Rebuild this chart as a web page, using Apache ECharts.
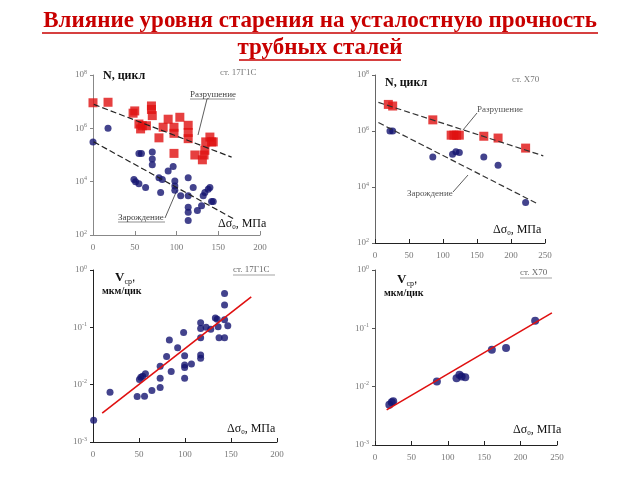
<!DOCTYPE html>
<html>
<head>
<meta charset="utf-8">
<script src="https://cdn.jsdelivr.net/npm/echarts@6/dist/echarts.min.js"></script>
<style>
  html, body { margin: 0; padding: 0; background: #fff; }
  #chart { width: 640px; height: 480px; }
</style>
</head>
<body>
<div id="chart"></div>
<script>
// Панель 1: ст. 17Г1С, N(Δσ0) — [Δσ0, N]
const p1Fracture = [
  [0, 9.1e6], [18, 9.5e6], [48, 3.7e6], [50, 4.5e6], [55, 1.45e6], [57, 9.5e5],
  [59, 1.25e6], [64, 1.25e6], [70, 6.9e6], [70, 5.1e6], [71, 3.0e6], [79, 4.4e5],
  [84, 1.1e6], [90, 2.2e6], [97, 1.1e6], [97, 6.5e5], [97, 1.15e5], [104, 2.6e6],
  [114, 1.3e6], [114, 7e5], [114, 4.1e5], [122, 1.0e5], [131, 6.6e4], [133, 1.0e5],
  [134, 1.5e5], [135, 3.1e5], [140, 4.7e5], [142, 3.1e5], [144, 3.1e5]
];
const p1Init = [
  [0, 3.1e5], [18, 1e6], [49, 1.2e4], [51, 1e4], [55, 8.3e3], [55, 1.15e5], [58, 1.15e5],
  [63, 6e3], [71, 1.3e5], [71, 7.1e4], [71, 4.3e4], [79, 1.4e4], [81, 3.9e3], [83, 1.2e4],
  [90, 2.5e4], [96, 3.7e4], [98, 1.05e4], [98, 6.9e3], [98, 4.8e3], [105, 2.95e3],
  [114, 1.4e4], [114, 2.95e3], [114, 1.1e3], [114, 7.2e2], [114, 3.5e2], [120, 6e3],
  [125, 8.3e2], [130, 1.26e3], [132, 2.95e3], [134, 3.9e3], [138, 5.2e3], [140, 6e3],
  [142, 1.8e3], [144, 1.8e3]
];
const p1FractureFit = [[1, 7.9e6], [166, 8.3e4]];
const p1InitFit = [[1, 3.1e5], [168, 4.1e2]];

// Панель 2: ст. Х70
const p2Fracture = [
  [19.6, 8.9e6], [26, 7.8e6], [85, 2.5e6], [112, 7.1e5], [116, 7.1e5], [120, 7.1e5],
  [124, 7.1e5], [160, 6.5e5], [181, 5.6e5], [221.5, 2.45e5]
];
const p2Init = [
  [22, 1e6], [26, 1e6], [85, 1.17e5], [114, 1.48e5], [119, 1.8e5], [124, 1.7e5],
  [160, 1.17e5], [181, 6e4], [221.5, 2.8e3]
];
const p2FractureFit = [[5, 1.05e7], [247.5, 1.3e5]];
const p2InitFit = [[5, 2e6], [240, 2.45e3]];

// Панель 3: ст. 17Г1С, V(Δσ0)
const p3Rate = [
  [0.7, 2.4e-3], [18.5, 7.4e-3], [48, 6.2e-3], [56, 6.3e-3], [50.5, 1.23e-2], [52, 1.35e-2],
  [54, 1.4e-2], [57, 1.55e-2], [64, 7.9e-3], [73, 1.29e-2], [73, 8.9e-3], [73, 2.1e-2],
  [80, 3.1e-2], [83, 6e-2], [85, 1.7e-2], [92, 4.4e-2], [98.5, 8.1e-2], [99.6, 3.2e-2],
  [99.6, 2.2e-2], [99.6, 2e-2], [99.6, 1.29e-2], [107, 2.3e-2], [117, 0.12], [117, 0.095],
  [117, 0.066], [117, 0.033], [117, 0.029], [123, 0.1], [128, 0.093], [133, 0.145],
  [135, 0.138], [136, 0.102], [137, 0.066], [143, 0.39], [143, 0.245], [143, 0.135],
  [143, 0.066], [146.5, 0.107]
];
const p3Fit = [[10, 3.2e-3], [172, 0.34]];

// Панель 4: ст. Х70
const p4Rate = [
  [19.7, 4.9e-3], [23, 5.4e-3], [25, 5.6e-3], [85, 1.23e-2], [112, 1.4e-2], [116, 1.6e-2],
  [119, 1.5e-2], [124, 1.45e-2], [160.5, 4.3e-2], [180, 4.6e-2], [220, 0.135]
];
const p4Fit = [[16, 4e-3], [243, 0.184]];

const SERIF = '"Liberation Serif", "DejaVu Serif", serif';
const RED = '#e01010';
const NAVY = '#141470';

const supLabel = {
  formatter: v => '{b|10}{e|' + Math.round(Math.log10(v)) + '}',
  color: '#777',
  margin: 6,
  rich: {
    b: { fontFamily: SERIF, fontSize: 9, color: '#777' },
    e: { fontFamily: SERIF, fontSize: 6, color: '#777', padding: [0, 0, 6, 0] }
  }
};

function xAxis(gridIndex, max, color) {
  return {
    type: 'value', gridIndex, min: 0, max, interval: 50,
    axisLine: { lineStyle: { color, width: 1 } },
    axisTick: { inside: true, length: 4, lineStyle: { color } },
    axisLabel: { fontFamily: SERIF, fontSize: 9, color: '#777', margin: 8 },
    splitLine: { show: false }
  };
}
function yAxis(gridIndex, min, max, color, interval) {
  const a = {
    type: 'log', logBase: 10, gridIndex, min, max,
    axisLine: { show: true, lineStyle: { color, width: 1 } },
    axisTick: { show: true, length: 3, lineStyle: { color } },
    axisLabel: supLabel,
    minorTick: { show: false },
    splitLine: { show: false }
  };
  if (interval) a.interval = interval;
  return a;
}
function fitLine(data, color, dashed) {
  return {
    silent: true,
    symbol: ['none', 'arrow'],
    symbolSize: [0, 7],
    label: { show: false },
    lineStyle: { color, width: dashed ? 1.2 : 1.6, type: dashed ? [6, 3] : 'solid' },
    data: [[{ coord: data[0] }, { coord: data[1] }]]
  };
}
function scatter(idx, data, shape, color, size, fit, fitColor, dashed) {
  return {
    type: 'scatter', xAxisIndex: idx, yAxisIndex: idx, data,
    symbol: shape, symbolSize: size,
    itemStyle: { color },
    markLine: fitLine(fit, fitColor, dashed)
  };
}

function txt(x, y, text, size, opts) {
  return {
    type: 'text', x, y, silent: true,
    style: Object.assign({
      text, fill: '#111', font: (opts && opts.weight ? opts.weight + ' ' : '') + size + 'px ' + SERIF,
      align: 'left', verticalAlign: 'middle'
    }, opts && opts.style)
  };
}
function ln(x1, y1, x2, y2, color, w) {
  return { type: 'line', silent: true, shape: { x1, y1, x2, y2 }, style: { stroke: color || '#333', lineWidth: w || 0.8 } };
}
function dsig(x, y) {
  return {
    type: 'text', x, y, silent: true,
    style: {
      text: '{a|Δσ}{s|0}{a|, МПа}', align: 'left', verticalAlign: 'middle',
      rich: {
        a: { fontFamily: SERIF, fontSize: 12, fill: '#111', color: '#111' },
        s: { fontFamily: SERIF, fontSize: 7, fill: '#111', color: '#111', padding: [6, 0, 0, 0] }
      }
    }
  };
}
function vlab(x, y) {
  return [
    {
      type: 'text', x, y, silent: true,
      style: {
        text: '{v|V}{s|ср},', align: 'left', verticalAlign: 'middle',
        rich: {
          v: { fontFamily: SERIF, fontSize: 13, fontWeight: 'bold', fill: '#111', color: '#111' },
          s: { fontFamily: SERIF, fontSize: 8, fill: '#111', color: '#111', padding: [7, 0, 0, 0] }
        }
      }
    },
    txt(x - 13, y + 13, 'мкм/цик', 10, { weight: 'bold' })
  ];
}

const chart = echarts.init(document.getElementById('chart'), null, { renderer: 'canvas' });
chart.setOption({
  backgroundColor: '#fff',
  animation: false,
  grid: [
    { left: 93, top: 75, width: 167, height: 160 },
    { left: 375, top: 75, width: 170, height: 168 },
    { left: 93, top: 270, width: 184, height: 172 },
    { left: 375, top: 270, width: 182, height: 175 }
  ],
  xAxis: [
    xAxis(0, 200, '#888'),
    xAxis(1, 250, '#222'),
    xAxis(2, 200, '#222'),
    xAxis(3, 250, '#222')
  ],
  yAxis: [
    yAxis(0, 1e2, 1e8, '#888', 2),
    yAxis(1, 1e2, 1e8, '#666', 2),
    yAxis(2, 1e-3, 1, '#222'),
    yAxis(3, 1e-3, 1, '#555')
  ],
  series: [
    scatter(0, p1Init, 'circle', NAVY, 7, p1InitFit, '#222', true),
    scatter(0, p1Fracture, 'rect', RED, 9, p1FractureFit, '#222', true),
    scatter(1, p2Init, 'circle', NAVY, 7, p2InitFit, '#333', true),
    scatter(1, p2Fracture, 'rect', RED, 9, p2FractureFit, '#333', true),
    scatter(2, p3Rate, 'circle', NAVY, 7, p3Fit, RED, false),
    scatter(3, p4Rate, 'circle', NAVY, 8, p4Fit, RED, false)
  ],
  graphic: [
    // заголовок
    txt(320, 21, 'Влияние уровня старения на усталостную прочность', 23,
      { weight: 'bold', style: { fill: '#c80000', align: 'center' } }),
    txt(320, 48, 'трубных сталей', 23,
      { weight: 'bold', style: { fill: '#c80000', align: 'center' } }),
    ln(42, 33, 598, 33, '#c80000', 1.5),
    ln(239, 60, 401, 60, '#c80000', 1.5),

    // панель 1
    txt(103, 76, 'N, цикл', 12, { weight: 'bold' }),
    txt(220, 73, 'ст. 17Г1С', 9, { style: { fill: '#777' } }),
    txt(190, 95, 'Разрушение', 9, { style: { fill: '#444' } }),
    ln(190, 99, 235, 99, '#444', 0.6),
    ln(207, 99, 198, 135, '#333', 0.8),
    txt(118, 218, 'Зарождение', 9, { style: { fill: '#444' } }),
    ln(118, 222, 165, 222, '#444', 0.6),
    ln(165, 218, 177, 190, '#333', 0.8),
    dsig(218, 224),

    // панель 2
    txt(385, 83, 'N, цикл', 12, { weight: 'bold' }),
    txt(512, 80, 'ст. Х70', 9, { style: { fill: '#777' } }),
    txt(477, 110, 'Разрушение', 9, { style: { fill: '#555' } }),
    ln(477, 113, 463, 130, '#333', 0.8),
    txt(407, 194, 'Зарождение', 9, { style: { fill: '#555' } }),
    ln(453, 192, 468, 175, '#333', 0.8),
    dsig(493, 230),

    // панель 3
    ...vlab(115, 278),
    txt(233, 270, 'ст. 17Г1С', 9, { style: { fill: '#666' } }),
    ln(233, 275, 275, 275, '#666', 0.6),
    dsig(227, 429),

    // панель 4
    ...vlab(397, 280),
    txt(520, 273, 'ст. Х70', 9, { style: { fill: '#666' } }),
    ln(520, 278, 552, 278, '#666', 0.6),
    dsig(513, 430)
  ]
});
</script>
</body>
</html>
